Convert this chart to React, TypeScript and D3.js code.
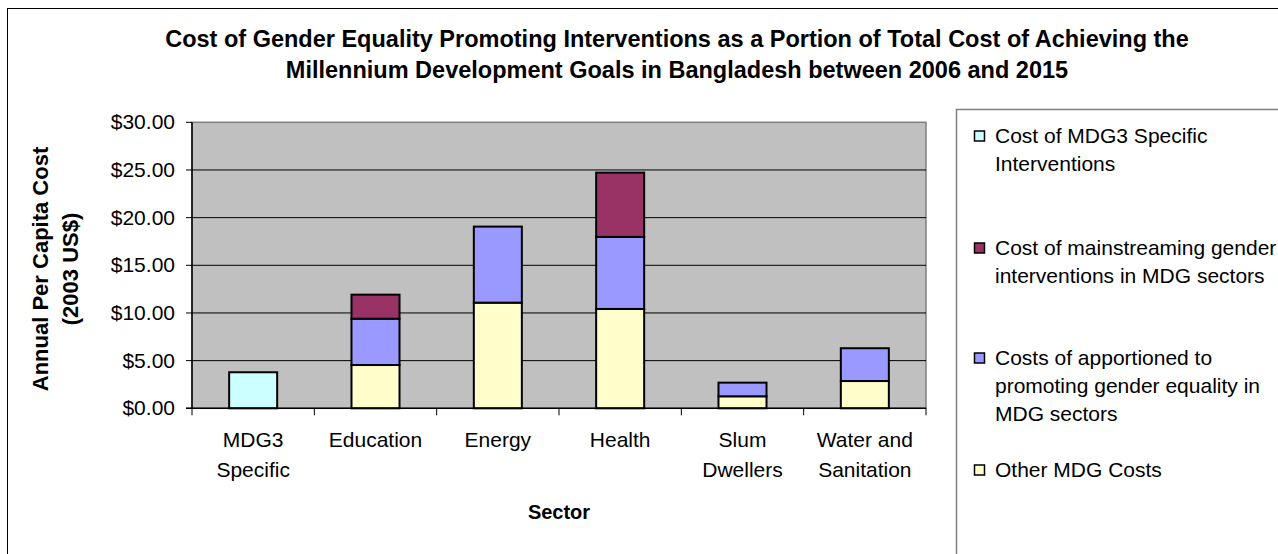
import React from 'react'
import * as d3 from 'd3'

const categories = [
    ['MDG3', 'Specific'],
    ['Education'],
    ['Energy'],
    ['Health'],
    ['Slum', 'Dwellers'],
    ['Water and', 'Sanitation'],
]
const otherCosts = [0, 4.54, 11.08, 10.42, 1.26, 2.86]
const apportioned = [0, 4.86, 7.98, 7.56, 1.43, 3.44]
const mainstreaming = [0, 2.52, 0, 6.74, 0, 0]
const mdg3Specific = [3.78, 0, 0, 0, 0, 0]

const yTicks = [0, 5, 10, 15, 20, 25, 30]

const series = [
    {key: 'other', values: otherCosts, color: '#FFFFCC', label: ['Other MDG Costs']},
    {key: 'appor', values: apportioned, color: '#9999FF', label: ['Costs of apportioned to', 'promoting gender equality in', 'MDG sectors']},
    {key: 'main', values: mainstreaming, color: '#993366', label: ['Cost of mainstreaming gender', 'interventions in MDG sectors']},
    {key: 'mdg3', values: mdg3Specific, color: '#CCFFFF', label: ['Cost of MDG3 Specific', 'Interventions']},
]
const legendY = [136, 248, 358, 470]

const font = '"Liberation Sans", Arial, sans-serif'

const App = () => {
    const left = 192, right = 926, top = 122.3, bottom = 408.3

    const x = d3.scaleBand()
        .domain(categories.map((c, i) => String(i)))
        .range([left, right])
        .paddingInner(0.6075)
        .paddingOuter(0.30375)
    const y = d3.scaleLinear().domain([0, 30]).range([bottom, top])

    const rows = categories.map((c, i) => {
        const r: any = {idx: String(i)}
        series.forEach(s => { r[s.key] = s.values[i] })
        return r
    })
    const stacked = d3.stack().keys(series.map(s => s.key))(rows)

    const step = (right - left) / categories.length

    return (
        <svg width={1278} height={554} style={{position: 'absolute', left: 0, top: 0, background: '#fff'}}
             fontFamily={font}>
            <rect x={7.5} y={8.5} width={1400} height={600} fill='#fff' stroke='#000' strokeWidth={1}/>

            <text x={677} y={46.7} textAnchor='middle' fontSize={23.5} fontWeight='bold'>
                Cost of Gender Equality Promoting Interventions as a Portion of Total Cost of Achieving the
            </text>
            <text x={677} y={78.3} textAnchor='middle' fontSize={23.5} fontWeight='bold'>
                Millennium Development Goals in Bangladesh between 2006 and 2015
            </text>

            {/* plot area */}
            <rect x={left} y={top} width={right - left} height={bottom - top} fill='#C0C0C0' stroke='#808080' strokeWidth={1.5}/>
            {yTicks.filter(t => t > 0 && t < 30).map(t => (
                <line key={t} x1={left} x2={right} y1={y(t)} y2={y(t)} stroke='#000' strokeWidth={1}/>
            ))}

            {stacked.map((layer, li) => (
                <g key={layer.key}>
                    {layer.map((d, i) => d[1] - d[0] > 0 ? (
                        <rect key={i} x={x(String(i))} width={x.bandwidth()}
                              y={y(d[1])} height={y(d[0]) - y(d[1])}
                              fill={series[li].color} stroke='#000' strokeWidth={2}/>
                    ) : null)}
                </g>
            ))}

            {/* axes */}
            <line x1={left} x2={left} y1={top} y2={bottom} stroke='#000' strokeWidth={1.5}/>
            <line x1={left - 6} x2={right} y1={bottom} y2={bottom} stroke='#000' strokeWidth={1.5}/>
            {yTicks.map(t => (
                <g key={t}>
                    <line x1={left - 6} x2={left} y1={y(t)} y2={y(t)} stroke='#000' strokeWidth={1}/>
                    <text x={175} y={y(t) + 7} textAnchor='end' fontSize={21}>{d3.format('$.2f')(t)}</text>
                </g>
            ))}
            {d3.range(categories.length + 1).map(i => (
                <line key={i} x1={left + i * step} x2={left + i * step} y1={bottom} y2={bottom + 7} stroke='#000' strokeWidth={1}/>
            ))}
            {categories.map((c, i) => (
                <text key={i} x={x(String(i))! + x.bandwidth() / 2} textAnchor='middle' fontSize={21}>
                    {c.map((line, j) => (
                        <tspan key={j} x={x(String(i))! + x.bandwidth() / 2} y={447 + j * 30}>{line}</tspan>
                    ))}
                </text>
            ))}
            <text x={(left + right) / 2} y={519} textAnchor='middle' fontSize={20} fontWeight='bold'>Sector</text>

            <text transform='translate(47.5,269) rotate(-90)' textAnchor='middle' fontSize={22} fontWeight='bold'>
                Annual Per Capita Cost
            </text>
            <text transform='translate(77.5,269) rotate(-90)' textAnchor='middle' fontSize={22} fontWeight='bold'>
                (2003 US$)
            </text>

            {/* legend */}
            <rect x={956.5} y={109.5} width={500} height={500} fill='#fff' stroke='#808080' strokeWidth={1.5}/>
            {series.slice().reverse().map((s, i) => (
                <g key={s.key}>
                    <rect x={974.5} y={legendY[i] - 5} width={10} height={10} fill={s.color} stroke='#000' strokeWidth={1.5}/>
                    <text fontSize={21}>
                        {s.label.map((line, j) => (
                            <tspan key={j} x={995} y={legendY[i] + 7 + j * 28}>{line}</tspan>
                        ))}
                    </text>
                </g>
            ))}
        </svg>
    )
}

export default App
